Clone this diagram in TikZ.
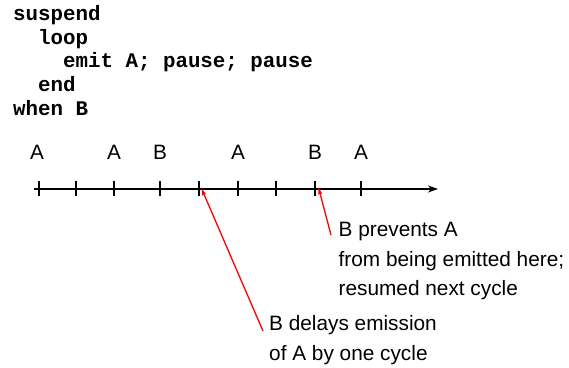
\documentclass[tikz,border=0pt]{standalone}
\usepackage{fontspec}
\setmainfont{Liberation Sans}
\newfontfamily\codefont{Liberation Mono}
\usetikzlibrary{arrows.meta}
\begin{document}
\begin{tikzpicture}[x=1pt,y=-1pt,
  codeline/.style={anchor=base west,inner sep=0pt,font=\codefont\bfseries\fontsize{20.8}{23.6}\selectfont},
  sig/.style={anchor=base,inner sep=0pt,font=\fontsize{20.8}{29}\selectfont},
  note/.style={anchor=base west,inner sep=0pt,font=\fontsize{20.8}{29}\selectfont},
  axis/.style={line width=1.3pt,-{Stealth[length=10pt,width=7pt,inset=3pt]}},
  tick/.style={line width=1.5pt},
  pointer/.style={red,line width=1.3pt,-{Stealth[length=7pt,width=4pt,inset=1pt]}}]
\useasboundingbox (0,0) rectangle (569,367);

% program text
\node[codeline] (c1) at (13,20.7) {suspend};
\node[codeline] (c2) at (38,44.3) {loop};
\node[codeline] (c3) at (63,67.9) {emit A; pause; pause};
\node[codeline] (c4) at (38,91.5) {end};
\node[codeline] (c5) at (13,115) {when B};

% time axis
\coordinate (t0) at (34,189);
\coordinate (t1) at (438,189);
\draw[axis] (t0) -- (t1);
\foreach \x in {39,76,114,160,199,238,276,315,361}
  \draw[tick] (\x,181) -- (\x,196);

% signals present in each instant
\node[sig] (s1) at (37,159.3) {A};
\node[sig] (s2) at (114,159.3) {A};
\node[sig] (s3) at (160,159.3) {B};
\node[sig] (s4) at (238,159.3) {A};
\node[sig] (s5) at (315,159.3) {B};
\node[sig] (s6) at (361,159.3) {A};

% annotations
\node[note] (n1) at (338.5,236.7) {B prevents A};
\node[note] (n2) at (338.5,266) {from being emitted here;};
\node[note] (n3) at (338.5,295.3) {resumed next cycle};
\node[note] (m1) at (269,330.7) {B delays emission};
\node[note] (m2) at (269,360) {of A by one cycle};

\coordinate (p1) at (201.5,188.5);
\coordinate (p2) at (318.5,187.5);
\coordinate (q1) at (263,331);
\coordinate (q2) at (331,235);
\draw[pointer] (q1) -- (p1);
\draw[pointer] (q2) -- (p2);
\end{tikzpicture}
\end{document}
